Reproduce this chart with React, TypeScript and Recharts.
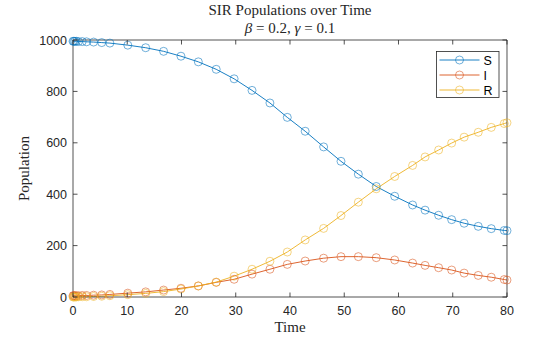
import { LineChart, Line, XAxis, YAxis } from "recharts";

// sample times (solver output) and populations
const times = [
  0, 0.15, 0.35, 0.6, 1.0, 1.7, 2.5, 3.8, 5.3, 6.8, 10.1, 13.4, 16.7, 19.9,
  23.1, 26.4, 29.7, 33.0, 36.3, 39.5, 42.8, 46.2, 49.4, 52.6, 55.9, 59.3, 62.6,
  64.9, 67.4, 69.8, 72.1, 74.7, 77.1, 79.5, 80,
];
const susceptible = [
  995, 995, 995, 995, 994, 994, 993, 992, 990, 988, 980, 970, 956, 937, 915,
  886, 849, 804, 755, 699, 645, 584, 528, 478, 430, 392, 358, 338, 318, 301,
  287, 275, 266, 259, 258,
];
const infected = [
  5, 5, 5, 5, 5, 6, 6, 7, 8, 10, 15, 20, 27, 34, 43, 57, 69, 89, 108, 127, 140,
  151, 157, 157, 153, 144, 132, 123, 114, 105, 93, 84, 77, 68, 66,
];
const recovered = [
  0, 0, 0, 0, 1, 1, 1, 2, 3, 5, 9, 14, 21, 31, 43, 58, 81, 108, 139, 175, 222,
  267, 317, 369, 421, 469, 512, 545, 572, 599, 622, 641, 660, 675, 678,
];
const xTicks = [0, 10, 20, 30, 40, 50, 60, 70, 80];
const yTicks = [0, 200, 400, 600, 800, 1000];
const seriesNames = ["S", "I", "R"];
const colors = ["#0072BD", "#D95319", "#EDB120"];

const data = times.map((t, i) => ({
  t,
  S: susceptible[i],
  I: infected[i],
  R: recovered[i],
}));

const AXIS = "#262626";
const SANS = "'Liberation Sans', Arial, Helvetica, sans-serif";
const SERIF = "'Liberation Serif', 'Times New Roman', serif";
const TICK = 4.5;

const BottomTick = ({ x, y, payload }: any) => (
  <g>
    <line x1={x} y1={y} x2={x} y2={y - TICK} stroke={AXIS} strokeWidth={0.8} />
    <text x={x} y={y + 18} textAnchor="middle" fontSize={12.5} fontFamily={SANS} fill={AXIS}>
      {payload.value}
    </text>
  </g>
);

const TopTick = ({ x, y }: any) => (
  <line x1={x} y1={y} x2={x} y2={y + TICK} stroke={AXIS} strokeWidth={0.8} />
);

const LeftTick = ({ x, y, payload }: any) => (
  <g>
    <line x1={x} y1={y} x2={x + TICK} y2={y} stroke={AXIS} strokeWidth={0.8} />
    <text x={x - 6} y={y + 4.5} textAnchor="end" fontSize={12.5} fontFamily={SANS} fill={AXIS}>
      {payload.value}
    </text>
  </g>
);

const RightTick = ({ x, y }: any) => (
  <line x1={x} y1={y} x2={x - TICK} y2={y} stroke={AXIS} strokeWidth={0.8} />
);

// title, subtitle and legend box, drawn at fixed spots like the original figure
const Decorations = () => (
  <g>
    <text x={290} y={15} textAnchor="middle" fontSize={15} fontFamily={SERIF} fill={AXIS}>
      SIR Populations over Time
    </text>
    <text x={290} y={32.5} textAnchor="middle" fontSize={15} fontFamily={SERIF} fill={AXIS}>
      <tspan fontStyle="italic">β</tspan> = 0.2, <tspan fontStyle="italic">γ</tspan> = 0.1
    </text>
    <rect x={436.5} y={51.5} width={62.5} height={46} fill="#fff" stroke={AXIS} strokeWidth={0.8} />
    {seriesNames.map((name, i) => {
      const ly = 60 + i * 15;
      return (
        <g key={name}>
          <line x1={439.5} y1={ly} x2={479.5} y2={ly} stroke={colors[i]} strokeWidth={0.9} />
          <circle cx={459.5} cy={ly} r={4} fill="none" stroke={colors[i]} strokeWidth={0.8} strokeOpacity={0.7} />
          <text x={483.5} y={ly + 4.5} fontSize={12.5} fontFamily={SANS} fill="#000">
            {name}
          </text>
        </g>
      );
    })}
  </g>
);

const App = () => {
  return (
    <div style={{ position: "absolute", left: 0, top: 0 }}>
      <LineChart
        width={560}
        height={337}
        data={data}
        margin={{ top: 40, right: 53, left: 0, bottom: 0 }}
        style={{ background: "#fff" }}
      >
        <XAxis
          xAxisId={0}
          dataKey="t"
          type="number"
          domain={[0, 80]}
          ticks={xTicks}
          height={40}
          tickSize={0}
          tickMargin={0}
          tickLine={false}
          axisLine={{ stroke: AXIS, strokeWidth: 0.8 }}
          tick={BottomTick}
          label={{
            content: () => (
              <text x={290} y={332} textAnchor="middle" fontSize={15} fontFamily={SERIF} fill={AXIS}>
                Time
              </text>
            ),
          }}
        />
        <XAxis
          xAxisId="top"
          orientation="top"
          dataKey="t"
          type="number"
          domain={[0, 80]}
          ticks={xTicks}
          height={0.01}
          tickSize={0}
          tickMargin={0}
          tickLine={false}
          axisLine={{ stroke: AXIS, strokeWidth: 0.8 }}
          tick={TopTick}
          label={{ content: () => <Decorations /> }}
        />
        <YAxis
          yAxisId={0}
          type="number"
          domain={[0, 1000]}
          ticks={yTicks}
          width={73}
          tickSize={0}
          tickMargin={0}
          tickLine={false}
          axisLine={{ stroke: AXIS, strokeWidth: 0.8 }}
          tick={LeftTick}
          label={{
            content: () => (
              <text
                x={0}
                y={0}
                transform="translate(29 168.5) rotate(-90)"
                textAnchor="middle"
                fontSize={15}
                fontFamily={SERIF}
                fill={AXIS}
              >
                Population
              </text>
            ),
          }}
        />
        <YAxis
          yAxisId="right"
          orientation="right"
          type="number"
          domain={[0, 1000]}
          ticks={yTicks}
          width={0.01}
          tickSize={0}
          tickMargin={0}
          tickLine={false}
          axisLine={{ stroke: AXIS, strokeWidth: 0.8 }}
          tick={RightTick}
        />
        {/* invisible series so the mirrored top/right axes get drawn */}
        <Line
          xAxisId="top"
          yAxisId="right"
          dataKey="S"
          stroke="none"
          dot={false}
          activeDot={false}
          legendType="none"
          isAnimationActive={false}
        />
        {seriesNames.map((name, i) => (
          <Line
            key={name}
            xAxisId={0}
            yAxisId={0}
            dataKey={name}
            type="linear"
            stroke={colors[i]}
            strokeWidth={0.9}
            dot={{ r: 4, fill: "none", stroke: colors[i], strokeWidth: 0.8, strokeOpacity: 0.7 }}
            isAnimationActive={false}
          />
        ))}
      </LineChart>
    </div>
  );
};

export default App;
